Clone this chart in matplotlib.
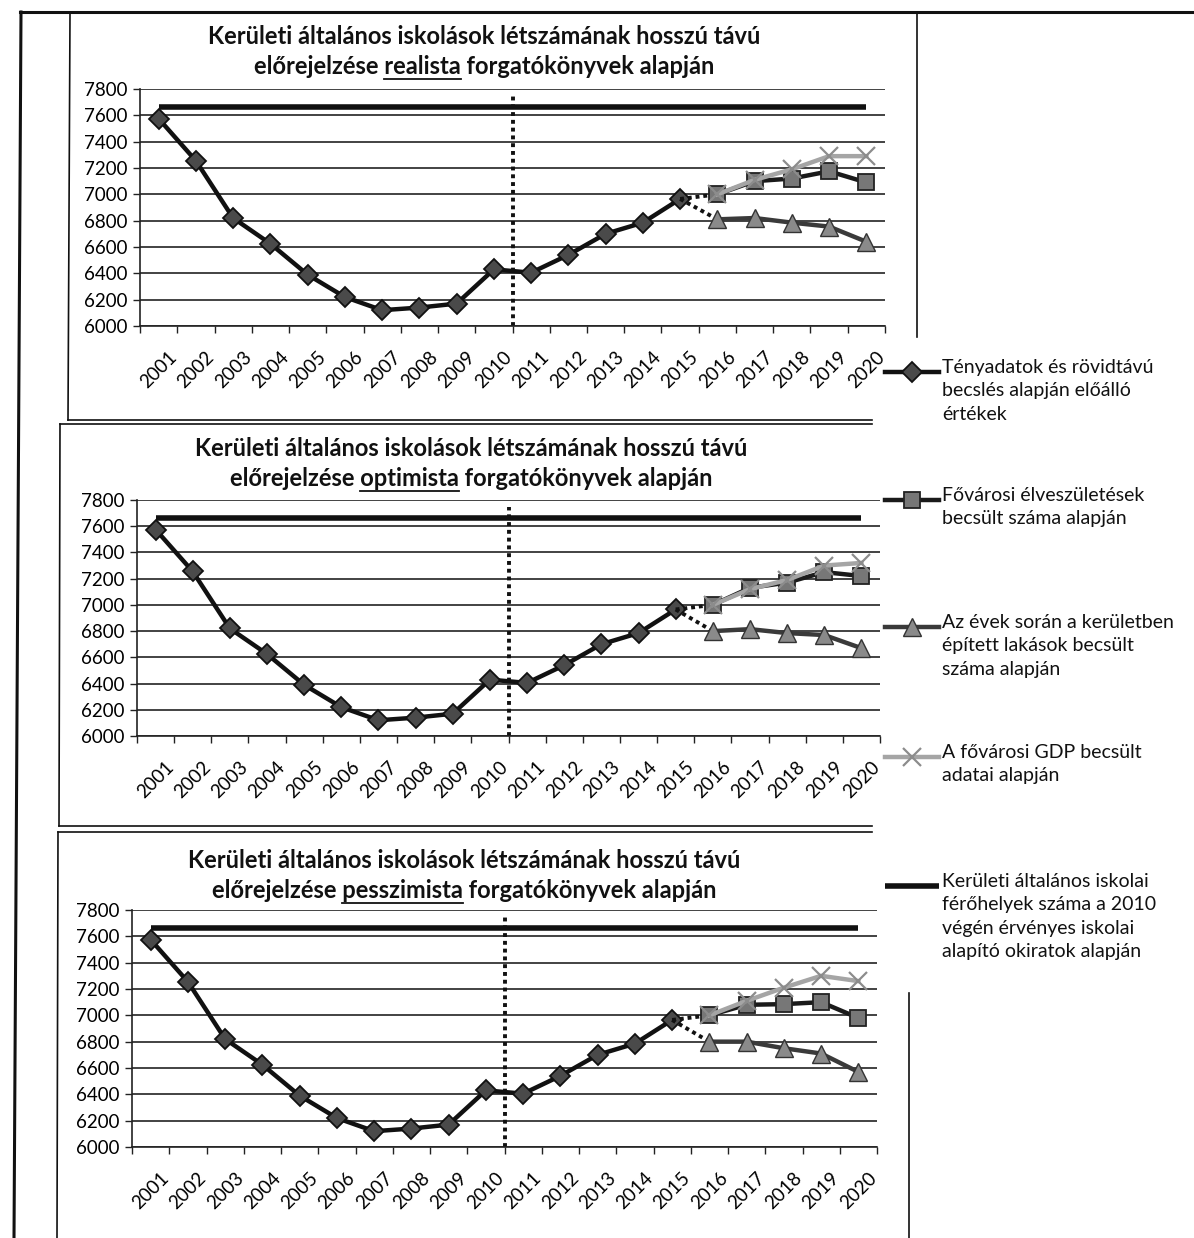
import numpy as np
import matplotlib
matplotlib.use('Agg')
import matplotlib.pyplot as plt
from matplotlib.lines import Line2D

plt.rcParams['font.family'] = ['Lato', 'DejaVu Sans']

W, H = 1194, 1238

years = list(range(2001, 2021))
tick_labels = [str(y) for y in years]
y_ticks = list(range(6000, 7801, 200))

# tenyadatok es rovidtavu becsles (2001-2015), same on all three charts
actual = [7575, 7255, 6820, 6625, 6390, 6220, 6120, 6140, 6170, 6430,
          6405, 6540, 6700, 6785, 6965]
# ferohelyek szama
capacity = [7660] * 20

# forecasts 2016-2020
births_real = [7000, 7100, 7120, 7175, 7090]
flats_real = [6810, 6820, 6785, 6755, 6640]
gdp_real = [7000, 7110, 7190, 7290, 7290]

births_opt = [7000, 7130, 7170, 7250, 7220]
flats_opt = [6800, 6815, 6785, 6770, 6670]
gdp_opt = [7000, 7120, 7190, 7300, 7320]

births_pess = [7000, 7080, 7085, 7100, 6980]
flats_pess = [6800, 6800, 6750, 6710, 6570]
gdp_pess = [7000, 7110, 7210, 7300, 7260]

title_line1 = 'Kerületi általános iskolások létszámának hosszú távú'
title_pre = 'előrejelzése '
title_post = ' forgatókönyvek alapján'
scenarios = ['realista', 'optimista', 'pesszimista']

legend_labels = [
    'Tényadatok és rövidtávú\nbecslés alapján előálló\nértékek',
    'Fővárosi élveszületések\nbecsült száma alapján',
    'Az évek során a kerületben\népített lakások becsült\nszáma alapján',
    'A fővárosi GDP becsült\nadatai alapján',
    'Kerületi általános iskolai\nférőhelyek száma a 2010\nvégén érvényes iskolai\nalapító okiratok alapján',
]

# series styles
st_actual = dict(color='#111111', lw=3.2, marker='D', ms=10, mfc='#4a4a4a', mec='#111111', mew=1.3)
st_births = dict(color='#1a1a1a', lw=3.2, marker='s', ms=12, mfc='#777777', mec='#222222', mew=1.3)
st_flats = dict(color='#3a3a3a', lw=3.2, marker='^', ms=13, mfc='#8a8a8a', mec='#333333', mew=1.0)
st_gdp = dict(color='#a5a5a5', lw=3.2, marker='x', ms=13, mec='#8c8c8c', mew=1.6)
st_cap = dict(color='#111111', lw=4, solid_capstyle='butt')
dotted = dict(color='#111111', lw=2.8, ls=(0, (1, 1)))

# pixel boxes of the plot areas: left, top, right, bottom, + title centre
panels = [
    (140, 89, 885, 326, births_real, flats_real, gdp_real, 484, 37),
    (137, 500, 880, 736, births_opt, flats_opt, gdp_opt, 471, 449),
    (132, 910, 877, 1147, births_pess, flats_pess, gdp_pess, 464, 861),
]

fig = plt.figure(figsize=(W / 100, H / 100), dpi=100)
renderer = fig.canvas.get_renderer()


def text_width(s, **kw):
    t = fig.text(0, 0, s, **kw)
    w = t.get_window_extent(renderer).width
    t.remove()
    return w


def fig_line(x0, y0, x1, y1, lw=1.5, color='#111111'):
    fig.add_artist(Line2D([x0 / W, x1 / W], [1 - y0 / H, 1 - y1 / H],
                          transform=fig.transFigure, color=color, lw=lw))


x = np.arange(len(years))
fx = x[len(actual):]
split = years.index(2011) - 0.5

for (l, t, r, b, births, flats, gdp, tcx, tcy), scen in zip(panels, scenarios):
    ax = fig.add_axes([l / W, 1 - b / H, (r - l) / W, (b - t) / H])
    ax.set_xlim(-0.5, len(years) - 0.5)
    ax.set_ylim(6000, 7800)
    ax.set_yticks(y_ticks)
    ax.yaxis.grid(True, color='#222222', lw=1.2)
    ax.set_axisbelow(True)
    for s in ['top', 'right']:
        ax.spines[s].set_visible(False)
    for s in ['left', 'bottom']:
        ax.spines[s].set_color('#222222')
        ax.spines[s].set_linewidth(1.2)

    ax.plot(x, capacity, **st_cap)
    ax.axvline(split, ymin=0, ymax=(7750 - 6000) / 1800, **dotted)
    ax.plot(x[:len(actual)], actual, **st_actual)
    ax.plot([x[len(actual) - 1], fx[0]], [actual[-1], births[0]], **dotted)
    ax.plot([x[len(actual) - 1], fx[0]], [actual[-1], flats[0]], **dotted)
    ax.plot(fx, flats, **st_flats)
    ax.plot(fx, births, **st_births)
    ax.plot(fx, gdp, **st_gdp)

    ax.set_xticks(x, tick_labels, rotation=45, ha='center')
    ax.set_xticks(np.arange(-0.5, len(years), 1), minor=True)
    ax.tick_params(axis='x', which='major', length=0, pad=16, labelsize=13.5)
    ax.tick_params(axis='x', which='minor', length=5, width=1, color='#222222')
    ax.tick_params(axis='y', length=5, width=1, color='#222222', labelsize=13.5, pad=4)

    # title, two lines, scenario word underlined
    tkw = dict(fontsize=17, fontweight='bold', color='#111111')
    fig.text(tcx / W, 1 - tcy / H, title_line1, ha='center', va='center', **tkw)
    line2 = title_pre + scen + title_post
    y2 = tcy + 30
    fig.text(tcx / W, 1 - y2 / H, line2, ha='center', va='center', **tkw)
    w_full = text_width(line2, **tkw)
    w_pre = text_width(title_pre + scen, **tkw) - text_width(scen, **tkw)
    w_scen = text_width(scen, **tkw)
    ux0 = tcx - w_full / 2 + w_pre
    fig_line(ux0, y2 + 12, ux0 + w_scen, y2 + 12, lw=1.3)

# legend on the right, handle next to the first line of each entry
legend_styles = [st_actual, st_births, st_flats, st_gdp, st_cap]
legend_y = [372, 500, 627, 757, 886]
for lab, sty, ly in zip(legend_labels, legend_styles, legend_y):
    h = Line2D([885 / W, 912 / W, 939 / W], [1 - ly / H] * 3,
               transform=fig.transFigure, markevery=[1], **sty)
    fig.add_artist(h)
    fig.text(942 / W, 1 - (ly - 13) / H, lab, ha='left', va='top',
             fontsize=14, color='#111111', linespacing=1.45)

# scanned page frame lines
fig_line(20, 12, 1194, 12, lw=2.2)
fig_line(21, 12, 14, 1238, lw=2.2)
fig_line(70, 14, 68, 420, lw=1.2)
fig_line(68, 420, 872, 420, lw=1.2)
fig_line(917, 14, 917, 337, lw=1.2)
fig_line(60, 424, 872, 424, lw=1.2)
fig_line(60, 424, 59, 826, lw=1.2)
fig_line(59, 826, 872, 826, lw=1.2)
fig_line(58, 832, 872, 832, lw=1.2)
fig_line(58, 832, 57, 1238, lw=1.2)
fig_line(909, 993, 909, 1238, lw=1.2)

fig.savefig('out.png', dpi=100)
